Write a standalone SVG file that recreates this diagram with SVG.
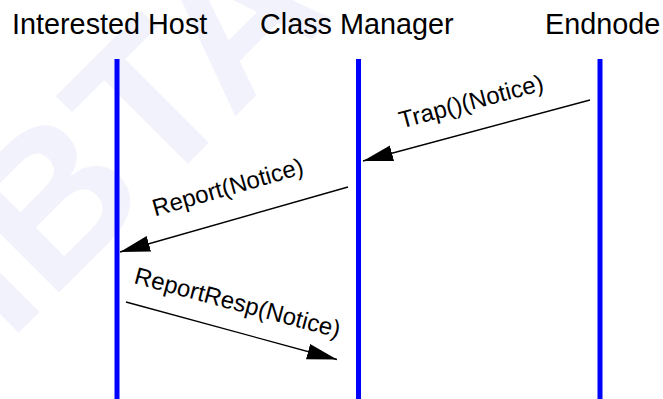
<svg xmlns="http://www.w3.org/2000/svg" width="663" height="399" viewBox="0 0 663 399">
<style>
.wm{font-family:"Liberation Sans",Arial,sans-serif;font-weight:bold;font-size:205px;fill:#f2f2fc}
.hdr{font-family:"Liberation Sans",Arial,sans-serif;font-size:28.8px;fill:#000}
.lbl{font-family:"Liberation Sans",Arial,sans-serif;font-size:24px;fill:#000}
.life{stroke:#0000ff;stroke-width:5;fill:none}
.msg{stroke:#000;stroke-width:1.3;fill:none;marker-end:url(#ah)}
</style>
<defs>
<marker id="ah" markerUnits="userSpaceOnUse" markerWidth="32" markerHeight="18" viewBox="0 -9 32 18" refX="30" refY="0" orient="auto">
<path d="M0,-8 L30,0 L0,8 Z" fill="#000"/>
</marker>
</defs>
<rect width="663" height="399" fill="#fff"/>
<text class="wm" transform="translate(9,342.5) rotate(-45)">IBTA</text>
<g id="interested-host">
<text class="hdr" x="12" y="34">Interested Host</text>
<line class="life" x1="117" y1="59" x2="117" y2="399"/>
</g>
<g id="class-manager">
<text class="hdr" x="260" y="34">Class Manager</text>
<line class="life" x1="358.5" y1="59" x2="358.5" y2="399"/>
</g>
<g id="endnode">
<text class="hdr" x="545" y="34">Endnode</text>
<line class="life" x1="600" y1="59" x2="600" y2="399"/>
</g>
<g id="connectors">
<line class="msg" x1="590" y1="100" x2="363" y2="161"/>
<text class="lbl" transform="translate(401.5,128.5) rotate(-15)">Trap()(Notice)</text>
<line class="msg" x1="348" y1="187" x2="120" y2="252"/>
<text class="lbl" transform="translate(155,216.5) rotate(-16)">Report(Notice)</text>
<line class="msg" x1="126" y1="302" x2="337" y2="359.5"/>
<text class="lbl" transform="translate(133,283) rotate(15)">ReportResp(Notice)</text>
</g>
</svg>
